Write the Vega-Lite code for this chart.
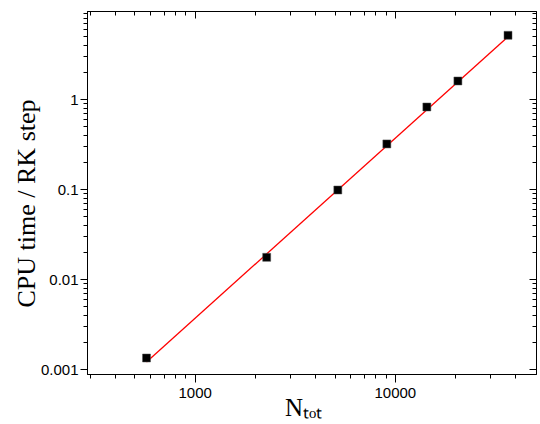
{
  "$schema": "https://vega.github.io/schema/vega-lite/v6.json",
  "width": 449,
  "height": 363,
  "autosize": {"type": "none"},
  "padding": {"left": 87, "top": 11, "right": 4, "bottom": 50},
  "background": "white",
  "config": {
    "view": {"stroke": "black", "strokeWidth": 1},
    "axis": {
      "domainColor": "black",
      "tickColor": "black",
      "grid": false,
      "labelFont": "Liberation Sans",
      "labelFontSize": 15,
      "labelColor": "black",
      "titleFont": "Liberation Serif",
      "titleFontWeight": "normal",
      "titleFontSize": 25,
      "titleColor": "black"
    }
  },
  "datasets": {
    "pts": [
      {"N": 575, "t": 0.001336},
      {"N": 2290, "t": 0.01755},
      {"N": 5190, "t": 0.0982},
      {"N": 9120, "t": 0.319},
      {"N": 14450, "t": 0.821},
      {"N": 20650, "t": 1.597},
      {"N": 36750, "t": 5.14}
    ],
    "fit": [
      {"N": 575, "t": 0.001205},
      {"N": 36750, "t": 4.96}
    ]
  },
  "layer": [
    {
      "data": {"name": "fit"},
      "mark": {"type": "line", "color": "#ff0000", "strokeWidth": 1.3},
      "encoding": {
        "x": {
          "field": "N", "type": "quantitative",
          "scale": {"type": "log", "domain": [290, 50700], "nice": false},
          "axis": {
            "orient": "bottom",
            "title": "Nₜₒₜ",
            "values": [300,400,500,600,700,800,900,1000,2000,3000,4000,5000,6000,7000,8000,9000,10000,20000,30000,40000],
            "labelExpr": "(datum.value == 1000 || datum.value == 10000) ? datum.value : ''",
            "tickSize": {"condition": {"test": "datum.value == 1000 || datum.value == 10000", "value": 8}, "value": 4},
            "labelPadding": 3,
            "labelFlush": false,
            "labelOverlap": false,
            "titleX": 216,
            "titleY": 41,
            "titleBaseline": "alphabetic"
          }
        },
        "y": {
          "field": "t", "type": "quantitative",
          "scale": {"type": "log", "domain": [0.000887, 9.57], "nice": false},
          "axis": {
            "orient": "left",
            "title": "CPU time / RK step",
            "titleFontSize": 26,
            "values": [0.001,0.002,0.003,0.004,0.005,0.006,0.007,0.008,0.009,0.01,0.02,0.03,0.04,0.05,0.06,0.07,0.08,0.09,0.1,0.2,0.3,0.4,0.5,0.6,0.7,0.8,0.9,1,2,3,4,5,6,7,8,9],
            "labelExpr": "(datum.value == 0.001 || datum.value == 0.01 || datum.value == 0.1 || datum.value == 1) ? datum.value : ''",
            "tickSize": {"condition": {"test": "datum.value == 0.001 || datum.value == 0.01 || datum.value == 0.1 || datum.value == 1", "value": 7}, "value": 4},
            "labelPadding": 2,
            "labelFlush": false,
            "labelOverlap": false,
            "titleX": -61,
            "titleY": 192,
            "titleBaseline": "middle"
          }
        }
      }
    },
    {
      "data": {"name": "pts"},
      "mark": {"type": "square", "filled": true, "color": "black", "size": 64, "opacity": 1, "stroke": "#555555", "strokeWidth": 0.5},
      "encoding": {
        "x": {
          "field": "N", "type": "quantitative",
          "scale": {"type": "log", "domain": [290, 50700], "nice": false},
          "axis": {
            "orient": "top",
            "title": null,
            "labels": false,
            "values": [300,400,500,600,700,800,900,1000,2000,3000,4000,5000,6000,7000,8000,9000,10000,20000,30000,40000],
            "tickSize": {"condition": {"test": "datum.value == 1000 || datum.value == 10000", "value": -7}, "value": -4}
          }
        },
        "y": {
          "field": "t", "type": "quantitative",
          "scale": {"type": "log", "domain": [0.000887, 9.57], "nice": false},
          "axis": {
            "orient": "right",
            "title": null,
            "labels": false,
            "values": [0.001,0.002,0.003,0.004,0.005,0.006,0.007,0.008,0.009,0.01,0.02,0.03,0.04,0.05,0.06,0.07,0.08,0.09,0.1,0.2,0.3,0.4,0.5,0.6,0.7,0.8,0.9,1,2,3,4,5,6,7,8,9],
            "tickSize": {"condition": {"test": "datum.value == 0.001 || datum.value == 0.01 || datum.value == 0.1 || datum.value == 1", "value": -7}, "value": -4}
          }
        }
      }
    }
  ],
  "resolve": {"axis": {"x": "independent", "y": "independent"}}
}
